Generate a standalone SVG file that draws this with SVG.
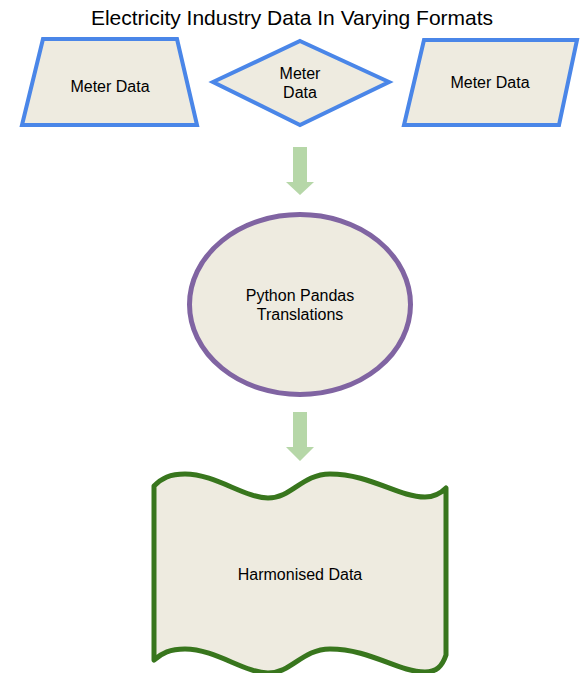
<svg xmlns="http://www.w3.org/2000/svg" width="585" height="673" viewBox="0 0 585 673">
<style>
.t{font-family:"Liberation Sans",Arial,sans-serif;font-size:16px;fill:#000;text-anchor:middle}
.title{font-family:"Liberation Sans",Arial,sans-serif;font-size:21px;fill:#000;text-anchor:middle}
.blue{fill:#eeebe0;stroke:#4a86e8;stroke-width:4;stroke-linejoin:miter}
.arrow{fill:#b6d7a8;stroke:none}
</style>
<rect width="585" height="673" fill="#ffffff"/>
<text class="title" x="292" y="25">Electricity Industry Data In Varying Formats</text>
<g id="meter1">
<polygon class="blue" points="43,39 177,39 197,125 22,125"/>
<text class="t" x="110" y="92">Meter Data</text>
</g>
<g id="meter2">
<polygon class="blue" points="300,41 389,82 300,125 213,82"/>
<text class="t" x="300" y="79">Meter</text>
<text class="t" x="300" y="98">Data</text>
</g>
<g id="meter3">
<polygon class="blue" points="424,40 577,40 559,125 404,125"/>
<text class="t" x="490" y="88">Meter Data</text>
</g>
<g id="pandas">
<ellipse cx="300" cy="304.5" rx="110.5" ry="90" fill="#eeebe0" stroke="#8064a2" stroke-width="5"/>
<text class="t" x="300" y="301">Python Pandas</text>
<text class="t" x="300" y="320">Translations</text>
</g>
<g id="harmonised">
<path d="M154,486 C162,478 170,474 185,474 C215,474 245,498 268,498 C292,498 302,474 330,474 C370,474 398,497 425,497 C436,497 442,492 446,488 L446,655 C442,667 436,672 425,672 C398,672 370,649 330,649 C302,649 292,673 268,673 C245,673 215,649 185,649 C170,649 162,653 154,660 Z" fill="#eeebe0" stroke="#38761d" stroke-width="5" stroke-linejoin="round"/>
<text class="t" x="300" y="580">Harmonised Data</text>
</g>
<g id="connectors">
<polygon class="arrow" points="293,147 307,147 307,182 314,182 300,195 286,182 293,182"/>
<polygon class="arrow" points="293,412 307,412 307,447 314,447 300,461 286,447 293,447"/>
</g>
</svg>
